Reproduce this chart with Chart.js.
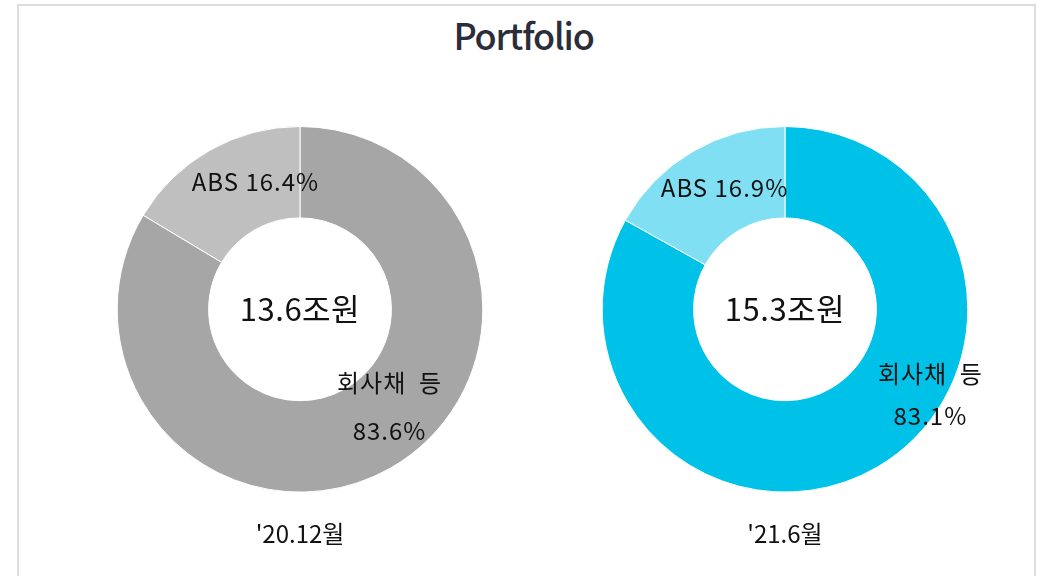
<!DOCTYPE html>
<html>
<head>
<meta charset="utf-8">
<script src="https://cdn.jsdelivr.net/npm/chart.js@4/dist/chart.umd.min.js"></script>
<style>
  html, body { margin: 0; padding: 0; background: #fff; }
  body { width: 1043px; height: 576px; overflow: hidden; position: relative; }
  .frame {
    position: absolute; left: 17px; top: 4px; width: 1019px; height: 620px;
    border: 2px solid #dedede; box-sizing: border-box;
  }
  .title {
    position: absolute; left: 0; width: 1047px; top: 8px; text-align: center;
    font-family: "Noto Sans CJK KR", sans-serif; font-weight: 500; font-size: 36px;
    color: #2b2d3a; letter-spacing: -1.2px;
  }
  canvas { position: absolute; top: 126px; }
  #chartLeft { left: 70px; }
  #chartRight { left: 555px; }
</style>
</head>
<body>
<div class="frame"></div>
<div class="title">Portfolio</div>
<canvas id="chartLeft" width="460" height="421"></canvas>
<canvas id="chartRight" width="460" height="421"></canvas>
<script>
'use strict';

/* data */
var categories = ['회사채 등', 'ABS'];
var periods = ["'20.12월", "'21.6월"];
var dec20Values = [83.6, 16.4];
var jun21Values = [83.1, 16.9];
var totals = [13.6, 15.3];

var fontFamily = '"Noto Sans CJK KR", "Noto Sans", sans-serif';

/* label nudges from the arc middle, per chart and per slice */
var labelNudge = [
	[{ x: 22, y: -22 }, { x: 23, y: -8 }],
	[{ x: 76, y: -33 }, { x: 9, y: -3 }]
];

/* draw slice labels and the total in the hole */
var doughnutText = {
	id: 'doughnutText',
	afterDatasetsDraw: function (chart, args, opts) {
		var ctx = chart.ctx;
		var meta = chart.getDatasetMeta(0);
		var values = chart.data.datasets[0].data;
		ctx.save();
		ctx.fillStyle = '#111';
		ctx.textAlign = 'center';
		ctx.textBaseline = 'middle';
		ctx.letterSpacing = '1px';

		meta.data.forEach(function (arc, i) {
			var pos = arc.tooltipPosition();
			var nudge = labelNudge[opts.index][i];
			var x = pos.x + nudge.x;
			var y = pos.y + nudge.y;
			var pct = values[i].toFixed(1) + '%';
			ctx.font = '24px ' + fontFamily;
			if (i === 0) {
				var gap = opts.index === 0 ? 24 : 21;
				ctx.fillText(categories[i].replace(' ', '  '), x, y - gap);
				ctx.fillText(pct, x, y + gap);
			} else {
				ctx.fillText(categories[i] + ' ' + pct, x, y);
			}
		});

		var c = meta.data[0];
		ctx.font = '31px ' + fontFamily;
		ctx.letterSpacing = '0.5px';
		ctx.fillText(totals[opts.index].toFixed(1) + '조원', c.x, c.y);
		ctx.restore();
	}
};

/* one doughnut per period */
function makeDoughnut(canvasId, index, values, colors) {
	return new Chart(document.getElementById(canvasId), {
		type: 'doughnut',
		data: {
			labels: categories,
			datasets: [{
				data: values,
				backgroundColor: colors,
				borderColor: '#ffffff',
				borderWidth: 1
			}]
		},
		options: {
			responsive: false,
			animation: false,
			cutout: '50%',
			layout: { padding: 0 },
			plugins: {
				legend: { display: false },
				tooltip: { enabled: false },
				title: {
					display: true,
					position: 'bottom',
					text: periods[index],
					color: '#111',
					font: { family: fontFamily, size: 24, weight: 'normal', lineHeight: 1.1 },
					padding: { top: 28, bottom: 0 }
				},
				doughnutText: { index: index }
			}
		},
		plugins: [doughnutText]
	});
}

makeDoughnut('chartLeft', 0, dec20Values, ['#a6a6a6', '#bfbfbf']);
makeDoughnut('chartRight', 1, jun21Values, ['#00c2e8', '#80dff3']);
</script>
</body>
</html>
